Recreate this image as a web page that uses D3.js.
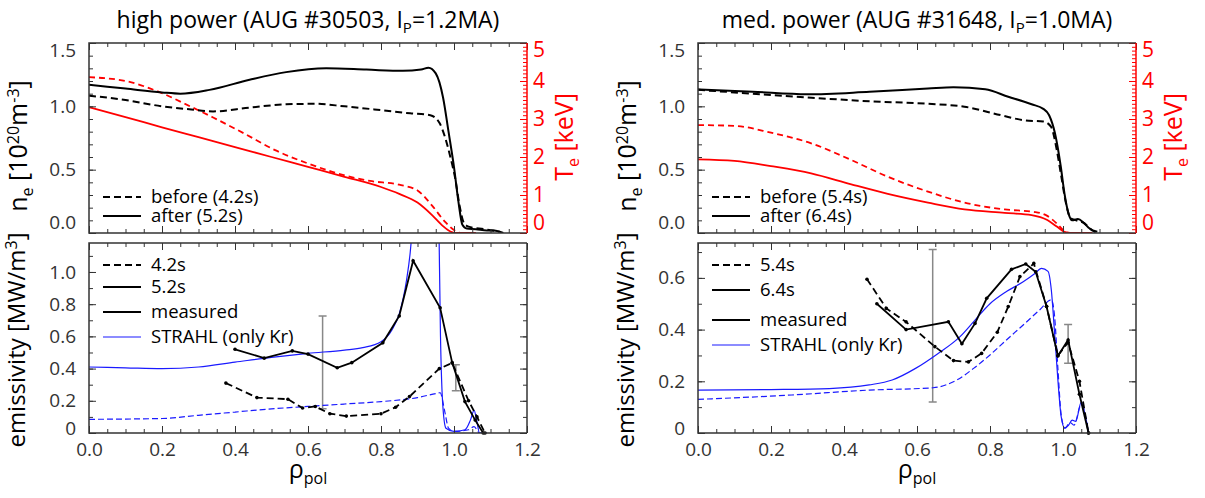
<!DOCTYPE html>
<html lang="en">
<head>
<meta charset="UTF-8">
<title>AUG Kr radiation profiles</title>
<script src="https://d3js.org/d3.v7.min.js"></script>
<style>
  body { margin: 0; background: #fff; }
  svg { display: block; font-family: "Open Sans", "Noto Sans", sans-serif; }
</style>
</head>
<body>
<svg width="1205" height="498"></svg>
<script>
// ---- shared axis data ----
const rhoTicks = [0, 0.2, 0.4, 0.6, 0.8, 1.0, 1.2];
const neTicks = [0, 0.5, 1.0, 1.5];
const teTicks = [0, 1, 2, 3, 4, 5];
const emTicksHp = [0, 0.2, 0.4, 0.6, 0.8, 1.0];
const emTicksMp = [0, 0.2, 0.4, 0.6];

// ---- high power, #30503: [rho_pol, value] ----
const hpNeBefore = [[0,1.084],[0.1,1.05],[0.2,1.0],[0.28,0.975],[0.34,0.96],[0.44,0.99],[0.54,1.016],[0.62,1.02],[0.7,1.0],[0.8,0.97],[0.88,0.945],[0.935,0.93],[0.96,0.87],[0.975,0.76],[0.99,0.6],[1.004,0.42],[1.015,0.22],[1.027,0.08],[1.04,0.05],[1.083,0.03],[1.125,0.01]];
const hpNeAfter = [[0,1.17],[0.1,1.14],[0.2,1.11],[0.25,1.10],[0.33,1.13],[0.44,1.21],[0.54,1.27],[0.65,1.30],[0.76,1.29],[0.86,1.28],[0.91,1.29],[0.93,1.305],[0.95,1.26],[0.97,1.07],[0.985,0.80],[1.0,0.52],[1.012,0.25],[1.023,0.065],[1.035,0.035],[1.06,0.03],[1.09,0.02],[1.11,0.02],[1.135,0.0]];
const hpTeBefore = [[0,4.10],[0.1,4.0],[0.195,3.70],[0.28,3.32],[0.34,3.04],[0.425,2.62],[0.51,2.18],[0.6,1.83],[0.68,1.57],[0.77,1.37],[0.85,1.27],[0.9,1.12],[0.94,0.72],[0.975,0.3],[1.0,0.08],[1.02,0.0],[1.06,0.0]];
const hpTeAfter = [[0,3.31],[0.1,3.05],[0.2,2.78],[0.3,2.52],[0.4,2.26],[0.5,2.0],[0.6,1.74],[0.7,1.48],[0.8,1.21],[0.85,1.03],[0.9,0.8],[0.94,0.47],[0.97,0.18],[0.99,0.04],[1.005,0.0],[1.06,0.0]];
const hpEmBefore = [[0.375,0.31],[0.46,0.22],[0.545,0.21],[0.585,0.155],[0.62,0.165],[0.66,0.12],[0.705,0.105],[0.80,0.12],[0.84,0.16],[0.878,0.226],[0.96,0.40],[0.995,0.435],[1.04,0.2],[1.063,0.1],[1.085,0.0]];
const hpEmAfter = [[0.40,0.52],[0.48,0.465],[0.557,0.51],[0.60,0.49],[0.68,0.405],[0.72,0.437],[0.805,0.56],[0.85,0.727],[0.888,1.07],[0.962,0.778],[0.995,0.437],[1.03,0.195],[1.058,0.08],[1.08,0.0]];
const hpStrahlBefore = [[0,0.085],[0.2,0.09],[0.3,0.11],[0.4,0.13],[0.5,0.15],[0.6,0.165],[0.7,0.18],[0.8,0.195],[0.9,0.22],[0.95,0.245],[0.962,0.25],[0.975,0.13],[0.985,0.03],[1.0,0.01],[1.04,0.02],[1.055,0.04],[1.07,0.0],[1.09,0.0]];
const hpStrahlAfter = [[0,0.41],[0.1,0.405],[0.2,0.40],[0.3,0.41],[0.4,0.44],[0.5,0.47],[0.6,0.495],[0.7,0.515],[0.75,0.53],[0.8,0.567],[0.83,0.64],[0.85,0.74],[0.87,0.95],[0.88,1.12],[0.89,1.4],[0.92,2.2],[0.95,2.2],[0.958,1.4],[0.963,0.6],[0.97,0.15],[0.978,0.03],[1.0,0.01],[1.03,0.02],[1.045,0.08],[1.055,0.14],[1.062,0.08],[1.07,0.0],[1.09,0.0]];
const hpErrBars = [[0.64,0.15,0.727],[1.005,0.262,0.424]];

// ---- medium power, #31648 ----
const mpNeBefore = [[0,1.13],[0.15,1.10],[0.3,1.07],[0.47,1.04],[0.63,1.02],[0.73,0.997],[0.83,0.93],[0.893,0.89],[0.946,0.88],[0.967,0.84],[0.983,0.655],[0.994,0.47],[1.01,0.21],[1.02,0.12],[1.036,0.10],[1.057,0.08],[1.08,0.02],[1.094,0.0]];
const mpNeAfter = [[0,1.134],[0.15,1.115],[0.3,1.095],[0.47,1.115],[0.63,1.14],[0.7,1.15],[0.787,1.134],[0.85,1.076],[0.914,1.016],[0.946,0.98],[0.962,0.93],[0.978,0.787],[0.994,0.523],[1.004,0.313],[1.015,0.155],[1.025,0.10],[1.041,0.11],[1.057,0.08],[1.073,0.035],[1.094,0.01]];
const mpTeBefore = [[0,2.84],[0.1,2.82],[0.2,2.64],[0.31,2.36],[0.42,1.92],[0.52,1.48],[0.63,1.09],[0.73,0.80],[0.84,0.62],[0.925,0.55],[0.957,0.45],[0.983,0.25],[1.004,0.05],[1.02,0.0],[1.08,0.0]];
const mpTeAfter = [[0,1.94],[0.1,1.90],[0.2,1.76],[0.31,1.57],[0.42,1.28],[0.52,1.03],[0.63,0.80],[0.73,0.62],[0.84,0.53],[0.914,0.47],[0.957,0.34],[0.983,0.17],[1.004,0.03],[1.02,0.0],[1.08,0.0]];
const mpEmBefore = [[0.463,0.595],[0.516,0.482],[0.57,0.43],[0.649,0.334],[0.70,0.28],[0.741,0.275],[0.777,0.308],[0.82,0.39],[0.85,0.489],[0.882,0.605],[0.92,0.656],[0.955,0.49],[0.986,0.30],[1.014,0.35],[1.045,0.2],[1.07,0.0]];
const mpEmAfter = [[0.49,0.50],[0.57,0.40],[0.686,0.43],[0.723,0.345],[0.759,0.424],[0.791,0.521],[0.859,0.633],[0.898,0.654],[0.925,0.624],[0.955,0.489],[0.986,0.298],[1.014,0.36],[1.045,0.15],[1.07,0.0]];
const mpStrahlBefore = [[0,0.13],[0.257,0.147],[0.469,0.166],[0.644,0.175],[0.709,0.205],[0.755,0.25],[0.8,0.302],[0.845,0.36],[0.891,0.418],[0.936,0.476],[0.968,0.515],[0.977,0.45],[0.986,0.25],[0.995,0.07],[1.005,0.02],[1.02,0.04],[1.03,0.03],[1.05,0.11],[1.07,0.0]];
const mpStrahlAfter = [[0,0.166],[0.2,0.168],[0.36,0.172],[0.469,0.186],[0.532,0.205],[0.596,0.25],[0.655,0.305],[0.718,0.373],[0.759,0.437],[0.8,0.50],[0.845,0.547],[0.891,0.585],[0.923,0.617],[0.941,0.637],[0.959,0.625],[0.968,0.553],[0.977,0.386],[0.986,0.205],[0.995,0.063],[1.005,0.018],[1.015,0.03],[1.025,0.05],[1.035,0.045],[1.05,0.12],[1.062,0.06],[1.07,0.0]];
const mpErrBars = [[0.643,0.12,0.71],[1.014,0.27,0.42]];

const svg = d3.select('svg');
const FONT = 19;
const topY = [43, 233], botY = [243, 433];

function clip(id, x0, x1, y0, y1) {
  svg.append('clipPath').attr('id', id).append('rect')
    .attr('x', x0).attr('y', y0).attr('width', x1 - x0).attr('height', y1 - y0);
}

function styleAxis(g, color, size) {
  g.select('.domain').remove();
  g.attr('font-size', size || FONT).attr('font-family', null);
  g.selectAll('.tick line').style('stroke', color).style('stroke-width', 1);
  g.selectAll('.tick text').attr('fill', color);
}

// inward x ticks on the bottom and top edge
function rhoAxes(g, x, y0, y1, labels) {
  const minor = x.ticks(24);
  g.append('g').attr('transform', `translate(0,${y1})`)
    .call(d3.axisBottom(x).tickValues(minor).tickSize(-4).tickFormat(''))
    .call(a => styleAxis(a, '#333'));
  g.append('g').attr('transform', `translate(0,${y1})`)
    .call(d3.axisBottom(x).tickValues(rhoTicks).tickSize(-7).tickPadding(10)
      .tickFormat(labels ? d3.format('.1f') : ''))
    .call(a => styleAxis(a, '#333'));
  g.append('g').attr('transform', `translate(0,${y0})`)
    .call(d3.axisTop(x).tickValues(minor).tickSize(-4).tickFormat(''))
    .call(a => styleAxis(a, '#333'));
  g.append('g').attr('transform', `translate(0,${y0})`)
    .call(d3.axisTop(x).tickValues(rhoTicks).tickSize(-7).tickFormat(''))
    .call(a => styleAxis(a, '#333'));
}

function yAxis(g, y, xPos, side, major, minorN, fmt, color, shiftTop, shiftBot, size) {
  const mk = side === 'left' ? d3.axisLeft : d3.axisRight;
  const [lo, hi] = y.domain();
  g.append('g').attr('transform', `translate(${xPos},0)`)
    .call(mk(y).tickValues(y.ticks(minorN)).tickSize(-4).tickFormat(''))
    .call(a => styleAxis(a, color));
  g.append('g').attr('transform', `translate(${xPos},0)`)
    .call(mk(y).tickValues(major).tickSize(-7).tickPadding(side === 'left' ? 13 : 6).tickFormat(fmt))
    .call(a => styleAxis(a, color, size))
    .call(a => a.selectAll('.tick text')
      .attr('y', d => d === hi ? shiftTop : d === lo ? shiftBot : 0));
}

function frame(g, x0, x1, y0, y1, rightColor) {
  g.append('path').attr('fill', 'none').attr('stroke', '#333').attr('stroke-width', 1.5)
    .attr('d', `M${x1},${y0}H${x0}V${y1}H${x1}`);
  g.append('line').attr('x1', x1).attr('x2', x1).attr('y1', y0).attr('y2', y1)
    .attr('stroke', rightColor).attr('stroke-width', 1.5);
}

function curve(g, data, x, y, color, width, dash, clipId) {
  g.append('path').datum(data)
    .attr('clip-path', `url(#${clipId})`)
    .attr('fill', 'none').attr('stroke', color).attr('stroke-width', width)
    .attr('stroke-dasharray', dash)
    .attr('d', d3.line().x(d => x(d[0])).y(d => y(d[1])).curve(d3.curveMonotoneX));
}

function measured(g, data, x, y, dash, clipId) {
  g.append('path').datum(data)
    .attr('clip-path', `url(#${clipId})`)
    .attr('fill', 'none').attr('stroke', '#000').attr('stroke-width', 1.8)
    .attr('stroke-dasharray', dash)
    .attr('d', d3.line().x(d => x(d[0])).y(d => y(d[1])));
  g.selectAll(null).data(data).enter().append('circle')
    .attr('cx', d => x(d[0])).attr('cy', d => y(d[1])).attr('r', 1.8).attr('fill', '#000');
}

function legendRow(g, x0, yy, color, width, dash, label) {
  g.append('line').attr('x1', x0 + 14).attr('x2', x0 + 52).attr('y1', yy).attr('y2', yy)
    .attr('stroke', color).attr('stroke-width', width).attr('stroke-dasharray', dash);
  g.append('text').attr('x', x0 + 62).attr('y', yy).attr('dy', '0.35em')
    .attr('font-size', 18.5).text(label);
}

function vLabel(g, cx, cy, parts, color, size) {
  const t = g.append('text').attr('transform', `translate(${cx},${cy}) rotate(-90)`)
    .attr('text-anchor', 'middle').attr('dy', '0.35em').attr('font-size', size).attr('fill', color);
  parts.forEach(p => t.append('tspan').attr('dy', p.dy || 0).attr('font-size', p.s || size).text(p.t));
}

function drawColumn(c) {
  const g = svg.append('g');
  const x = d3.scaleLinear().domain([0, 1.2]).range([c.x0, c.x1]);
  const yNe = d3.scaleLinear().domain([0, 1.5]).range([topY[1], topY[0]]);
  const yTe = d3.scaleLinear().domain([0, 5]).range([topY[1], topY[0]]);
  const yEm = d3.scaleLinear().domain([0, c.emMax]).range([botY[1], botY[0]]);
  const cTop = c.id + 'top', cBot = c.id + 'bot';
  clip(cTop, c.x0, c.x1, topY[0], topY[1]);
  clip(cBot, c.x0, c.x1, botY[0], botY[1]);

  // title
  const t = g.append('text').attr('x', (c.x0 + c.x1) / 2).attr('y', 28)
    .attr('text-anchor', 'middle').attr('font-size', 23);
  t.append('tspan').text(c.title[0]);
  t.append('tspan').attr('dy', 5).attr('font-size', 15).text('P');
  t.append('tspan').attr('dy', -5).text(c.title[1]);

  // ---- top: n_e and T_e ----
  curve(g, c.teBefore, x, yTe, '#ff0000', 1.8, '6,4', cTop);
  curve(g, c.teAfter, x, yTe, '#ff0000', 1.8, null, cTop);
  curve(g, c.neBefore, x, yNe, '#000', 2, '7,4', cTop);
  curve(g, c.neAfter, x, yNe, '#000', 2, null, cTop);
  rhoAxes(g, x, topY[0], topY[1], false);
  yAxis(g, yNe, c.x0, 'left', neTicks, 15, d3.format('.1f'), '#333', 7, -11);
  yAxis(g, yTe, c.x1, 'right', teTicks, 50, d3.format('d'), '#ff0000', 7, -10, 21);
  frame(g, c.x0, c.x1, topY[0], topY[1], '#ff0000');
  legendRow(g, c.x0, 197, '#000', 2, '7,4', c.legTop[0]);
  legendRow(g, c.x0, 216, '#000', 2, null, c.legTop[1]);

  vLabel(g, c.x0 - 62, 146, [
    {t: 'n'}, {t: 'e', s: 16, dy: 6}, {t: ' [10', dy: -6}, {t: '20', s: 16, dy: -8},
    {t: 'm', dy: 8}, {t: '-3', s: 16, dy: -8}, {t: ']', dy: 8}], '#000', 25);
  vLabel(g, c.x1 + 46, 137, [
    {t: 'T'}, {t: 'e', s: 16, dy: 6}, {t: ' [keV]', dy: -6}], '#ff0000', 25);

  // ---- bottom: emissivity ----
  c.errBars.forEach(e => {
    const xe = x(e[0]);
    g.append('path').attr('fill', 'none').attr('stroke', '#888').attr('stroke-width', 1.5)
      .attr('d', `M${xe},${yEm(e[1])}V${yEm(e[2])}M${xe - 4},${yEm(e[1])}H${xe + 4}M${xe - 4},${yEm(e[2])}H${xe + 4}`);
  });
  curve(g, c.strahlBefore, x, yEm, '#1a1aff', 1.2, '6,3', cBot);
  curve(g, c.strahlAfter, x, yEm, '#1a1aff', 1.2, null, cBot);
  measured(g, c.emBefore, x, yEm, '7,4', cBot);
  measured(g, c.emAfter, x, yEm, null, cBot);
  rhoAxes(g, x, botY[0], botY[1], true);
  const emFmt = d => d === 0 ? '0' : d3.format('.1f')(d);
  yAxis(g, yEm, c.x0, 'left', c.emTicks, c.emMinor, emFmt, '#333', 0, -5);
  yAxis(g, yEm, c.x1, 'right', c.emTicks, c.emMinor, '', '#333', 0, 0);
  frame(g, c.x0, c.x1, botY[0], botY[1], '#333');
  c.legBot.forEach((lab, i) => legendRow(g, c.x0, c.legBotY[i],
    i === 3 ? '#1a1aff' : '#000', i === 3 ? 1.2 : 2, i === 0 ? '7,4' : null, lab));

  vLabel(g, c.x0 - 64, 340, [
    {t: 'emissivity [MW/m'}, {t: '3', s: 16, dy: -8}, {t: ']', dy: 8}], '#000', 24);
  const r = g.append('text').attr('x', (c.x0 + c.x1) / 2).attr('y', 478)
    .attr('text-anchor', 'middle').attr('font-size', 25);
  r.append('tspan').text('ρ');
  r.append('tspan').attr('dy', 6).attr('font-size', 16).text('pol');
}

drawColumn({
  id: 'hp', x0: 89, x1: 527, title: ['high power (AUG #30503, I', '=1.2MA)'],
  neBefore: hpNeBefore, neAfter: hpNeAfter, teBefore: hpTeBefore, teAfter: hpTeAfter,
  legTop: ['before (4.2s)', 'after (5.2s)'],
  emMax: 1.18, emTicks: emTicksHp, emMinor: 12,
  emBefore: hpEmBefore, emAfter: hpEmAfter, strahlBefore: hpStrahlBefore, strahlAfter: hpStrahlAfter,
  errBars: hpErrBars,
  legBot: ['4.2s', '5.2s', 'measured', 'STRAHL (only Kr)'], legBotY: [265, 287, 312, 337]
});
drawColumn({
  id: 'mp', x0: 698, x1: 1136, title: ['med. power (AUG #31648, I', '=1.0MA)'],
  neBefore: mpNeBefore, neAfter: mpNeAfter, teBefore: mpTeBefore, teAfter: mpTeAfter,
  legTop: ['before (5.4s)', 'after (6.4s)'],
  emMax: 0.735, emTicks: emTicksMp, emMinor: 8,
  emBefore: mpEmBefore, emAfter: mpEmAfter, strahlBefore: mpStrahlBefore, strahlAfter: mpStrahlAfter,
  errBars: mpErrBars,
  legBot: ['5.4s', '6.4s', 'measured', 'STRAHL (only Kr)'], legBotY: [265, 290, 320, 345]
});
</script>
</body>
</html>
